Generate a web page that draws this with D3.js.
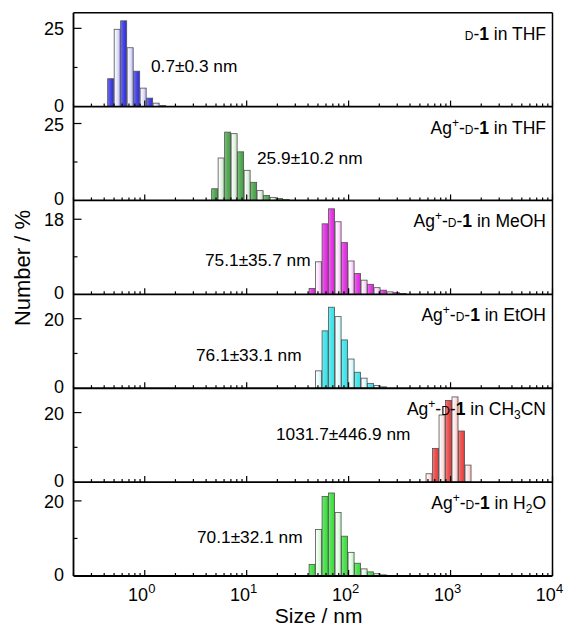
<!DOCTYPE html>
<html><head><meta charset="utf-8">
<script src="https://cdn.jsdelivr.net/npm/d3@7"></script>
<style>body{margin:0;background:#fff}svg{display:block;font-family:"Liberation Sans",Arial,sans-serif}</style>
</head><body><svg id="c" width="568" height="630"></svg>
<script>
// ---- data (bin centre sizes in nm, number %) ----
const sizesTHF = [0.4632,0.5365,0.6213,0.7195,0.8332,0.9649,1.117,1.294,1.499];
const numTHF   = [8.9,24.7,27.4,18.8,11.3,5.9,2.7,1.1,0.3];
const sizesAgTHF = [4.849,5.615,6.503,7.531,8.721,10.10,11.70,13.54,15.69,18.17,21.04,24.36];
const numAgTHF   = [3.8,13.8,22.2,21.7,15.8,9.8,5.9,3.2,1.6,1.0,0.6,0.3];
const sizesMeOH = [43.82,50.75,58.77,68.06,78.82,91.28,105.7,122.4,141.8,164.2,190.1,220.2,255.0,295.3,342.0];
const numMeOH   = [1.4,7.8,16.9,20.5,17.4,12.4,8.0,5.0,3.4,2.4,1.6,1.0,0.6,0.4,0.2];
const sizesEtOH = [50.75,58.77,68.06,78.82,91.28,105.7,122.4,141.8,164.2,190.1,220.2];
const numEtOH   = [5.0,16.5,23.3,20.6,13.9,8.4,4.6,2.9,1.4,0.8,0.4];
const sizesMeCN = [615.1,712.4,825.0,955.4,1106,1281,1484];
const numMeCN   = [2.4,9.7,19.3,23.5,24.5,14.7,4.9];
const sizesH2O = [43.82,50.75,58.77,68.06,78.82,91.28,105.7,122.4,141.8,164.2,190.1,220.2];
const numH2O   = [3.1,12.4,21.2,22.1,16.9,10.6,6.3,3.4,1.9,1.1,0.6,0.3];

const panelColors = ["#2a2ae0","#3f9f3f","#e020e0","#30e0e8","#e83838","#33dd33"];
const darkParity  = [1,1,0,0,0,0];
const yMax      = [30,30.5,22.5,27,27,25];
const yMajor    = [25,25,18,20,20,20];
const yMinor    = [12.5,12.5,9,10,10,10];
const means     = ["0.7±0.3 nm","25.9±10.2 nm","75.1±35.7 nm","76.1±33.1 nm","1031.7±446.9 nm","70.1±32.1 nm"];
const solvents  = ["THF","THF","MeOH","EtOH","CH3CN","H2O"];
const xTickExps = [0,1,2,3,4];

const datasets = [
  [sizesTHF,numTHF],[sizesAgTHF,numAgTHF],[sizesMeOH,numMeOH],
  [sizesEtOH,numEtOH],[sizesMeCN,numMeCN],[sizesH2O,numH2O]
];

// ---- layout ----
const svg = d3.select("#c");
const L = 73.5, R = 552.5, T = 12.7, B = 576;
const nP = 6, pH = (B - T) / nP;
const x = d3.scaleLog().domain([0.2, 10000]).range([L, R]);
const binRatio = Math.pow(10000/0.4, 1/70);
const halfR = Math.sqrt(binRatio);

const defs = svg.append("defs");
panelColors.forEach((c, i) => {
  const light = d3.interpolateRgb(c, "#fff");
  const g1 = defs.append("linearGradient").attr("id","gd"+i).attr("x1","0").attr("x2","1").attr("y1","0").attr("y2","0");
  g1.append("stop").attr("offset","0%").attr("stop-color", light(0.35));
  g1.append("stop").attr("offset","40%").attr("stop-color", light(0.15));
  g1.append("stop").attr("offset","100%").attr("stop-color", c);
  const g2 = defs.append("linearGradient").attr("id","gl"+i).attr("x1","0").attr("x2","1").attr("y1","0").attr("y2","0");
  g2.append("stop").attr("offset","0%").attr("stop-color", "#ffffff");
  g2.append("stop").attr("offset","60%").attr("stop-color", light(0.85));
  g2.append("stop").attr("offset","100%").attr("stop-color", light(0.6));
});

datasets.forEach(([sz, val], i) => {
  const top = T + i * pH, bot = top + pH;
  const y = d3.scaleLinear().domain([0, yMax[i]]).range([bot, top]);
  const g = svg.append("g");
  // bars
  g.selectAll("rect").data(sz.map((s, k) => ({s, v: val[k], k}))).join("rect")
    .attr("x", d => x(d.s / halfR) + 0.2)
    .attr("width", d => x(d.s * halfR) - x(d.s / halfR) - 0.4)
    .attr("y", d => y(d.v))
    .attr("height", d => y(0) - y(d.v))
    .attr("fill", d => {
      const bin = Math.round(Math.log(d.s/0.4)/Math.log(binRatio));
      return bin % 2 === darkParity[i] ? `url(#gd${i})` : `url(#gl${i})`;
    })
    .attr("stroke", "#505050").attr("stroke-width", 0.8);

  // x axis ticks (inward)
  const xt = [];
  for (let e = -1; e <= 3; e++) for (let m = 1; m <= 9; m++) {
    const v = m * Math.pow(10, e);
    if (v >= 0.2 && v <= 10000) xt.push(v);
  }
  xt.push(10000);
  g.selectAll("line.xt").data(xt).join("line").attr("class","xt")
    .attr("x1", d => x(d)).attr("x2", d => x(d))
    .attr("y1", bot).attr("y2", d => Math.abs(Math.log10(d) - Math.round(Math.log10(d))) < 1e-9 ? bot - 6 : bot - 3)
    .attr("stroke","#000").attr("stroke-width",1.2);

  // y ticks (inward)
  g.selectAll("line.yt").data([yMajor[i], yMinor[i]]).join("line").attr("class","yt")
    .attr("x1", L).attr("x2", (d, k) => k === 0 ? L + 8 : L + 4)
    .attr("y1", d => y(d)).attr("y2", d => y(d))
    .attr("stroke","#000").attr("stroke-width",1.2);
  g.selectAll("text.yl").data([0, yMajor[i]]).join("text").attr("class","yl")
    .attr("x", 64).attr("y", d => y(d) + (d === 0 ? 5 : 7)).attr("text-anchor","end")
    .attr("font-size", 18).text(d => d);

  // frame
  g.append("line").attr("x1",L).attr("x2",R).attr("y1",bot).attr("y2",bot).attr("stroke","#000").attr("stroke-width",1.8);

  // mean annotation
  const annX = [151, 257, 205, 196, 276, 197];
  const annY = [72, 164, 266, 361, 440, 543];
  g.append("text").attr("x", annX[i]).attr("y", annY[i]).attr("font-size", 17.3).text(means[i]);

  // sample label
  const lab = g.append("text").attr("x", 546).attr("y", top + 27).attr("text-anchor","end").attr("font-size",17.5);
  if (i > 0) {
    lab.append("tspan").text("Ag");
    lab.append("tspan").attr("font-size",12).attr("dy",-7).text("+");
    lab.append("tspan").attr("dy",7).text("-");
  }
  lab.append("tspan").attr("font-size",12).text("D");
  lab.append("tspan").text("-");
  lab.append("tspan").attr("font-weight","bold").text("1");
  const sol = solvents[i];
  if (sol === "CH3CN") {
    lab.append("tspan").text(" in CH");
    lab.append("tspan").attr("font-size",12).attr("dy",4).text("3");
    lab.append("tspan").attr("dy",-4).text("CN");
  } else if (sol === "H2O") {
    lab.append("tspan").text(" in H");
    lab.append("tspan").attr("font-size",12).attr("dy",4).text("2");
    lab.append("tspan").attr("dy",-4).text("O");
  } else {
    lab.append("tspan").text(" in " + sol);
  }
});

// outer frame sides
svg.append("line").attr("x1",L).attr("x2",L).attr("y1",T).attr("y2",B).attr("stroke","#000").attr("stroke-width",1.8);
svg.append("line").attr("x1",R).attr("x2",R).attr("y1",T).attr("y2",B).attr("stroke","#000").attr("stroke-width",1.5);
svg.append("line").attr("x1",L).attr("x2",R).attr("y1",T).attr("y2",T).attr("stroke","#000").attr("stroke-width",1.5);

// x tick labels
const xl = svg.selectAll("text.xl").data(xTickExps).join("text").attr("class","xl")
  .attr("x", d => x(Math.pow(10, d)) - 3).attr("y", 601).attr("text-anchor","middle").attr("font-size",18);
xl.append("tspan").text("10");
xl.append("tspan").attr("font-size",13).attr("dy",-8).text(d => d);

svg.append("text").attr("x", x(100) - 30).attr("y", 623).attr("text-anchor","middle").attr("font-size",21).text("Size / nm");
svg.append("text").attr("transform","translate(30,268) rotate(-90)").attr("text-anchor","middle").attr("font-size",22).text("Number / %");
</script></body></html>
